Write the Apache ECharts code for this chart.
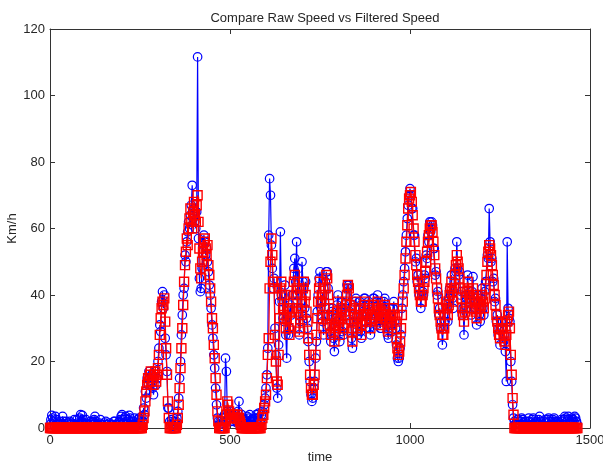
<!DOCTYPE html>
<html>
<head>
<meta charset="utf-8">
<script src="https://cdn.jsdelivr.net/npm/echarts@6/dist/echarts.min.js"></script>
<style>
  html, body { margin: 0; padding: 0; background: #ffffff; }
  #chart { width: 603px; height: 464px; }
</style>
</head>
<body>
<div id="chart"></div>
<script>
// Sampling grid of the recording (seconds)
const timeStart = 0;
const timeStep = 2.5;

// Raw GPS speed, km/h (one row = 50 s, two halves of 25 s)
const rawSpeed = [
  1, 2.5, 3.8, 3, 2, 0.5, 3.5, 2.5, 0.5, 1,            1.5, 2, 0, 1, 3.5, 2, 1, 0.5, 2, 1.5,              // 0
  0.5, 1.5, 2, 1, 1.5, 0.5, 1, 2.5, 0, 1,              2.5, 1.5, 1, 3, 4, 2, 3.8, 2.5, 1, 0.5,            // 50
  2.5, 1.5, 1, 0.5, 0.5, 2, 1.5, 1, 2, 2.5,            3.5, 2, 1, 0.5, 0.5, 1.5, 2.5, 1, 1, 0.5,          // 100
  0.5, 1.5, 2, 1, 1, 0.5, 1.5, 1, 0, 0.5,              1, 2, 2, 1, 0.5, 1, 1.5, 2, 2.5, 3.5,              // 150
  4, 2.5, 1.5, 3, 3.5, 2, 0.5, 2.5, 3.8, 3,            2, 1, 1, 2, 3, 1.5, 0.5, 1.5, 2.5, 3,              // 200
  1.5, 2.5, 3.5, 2, 6, 4, 11, 9, 15, 13,               17, 15, 14, 16, 12, 10, 15, 17, 13, 15,            // 250
  20, 24, 31, 29, 38, 41, 36, 40, 27, 22,              17, 6, 6, 2, 1, 2.5, 1, 0.5, 2, 1.5,               // 300
  2, 3, 5, 9, 15, 20, 28, 34, 40, 42,                  52, 50, 56, 59, 62, 60, 64, 67, 73, 63,            // 350
  66, 62, 60, 65, 111.6, 57, 45, 41, 42, 48,           55, 58, 56, 52, 54, 50, 47, 43, 40, 36,            // 400
  31, 27, 22, 18, 12, 7, 3, 2, 1, 2,                   0.5, 1.5, 3, 2, 4, 21, 17, 5, 3, 4,                // 450
  3, 5, 2, 4, 2, 3, 4, 2, 1.5, 5,                      8, 3, 2, 4, 3, 1, 0.5, 2.5, 2, 3.5,                // 500
  1.5, 3, 4, 2, 2.5, 1, 1, 3, 3, 4,                    2, 3, 4.5, 2, 1.5, 4, 5, 4, 7, 9,                  // 550
  12, 16, 24, 58, 75, 70, 55, 48, 42, 45,              30, 22, 12, 9, 25, 38, 59, 40, 38, 33,             // 600
  32, 43, 28, 21, 34, 28, 30, 37, 34, 40,              40, 48, 51, 44, 56, 40, 48, 28, 32, 36,            // 650
  50, 44, 42, 36, 44, 33, 30, 26, 20, 14,              10, 8, 9, 12, 14, 21, 26, 35, 40, 45,              // 700
  47, 36, 38, 32, 28, 38, 44, 47, 47, 42,              34, 29, 26, 35, 36, 27, 23, 33, 32, 37,            // 750
  40, 30, 26, 35, 38, 29, 28, 37, 36, 40,              43, 42, 43, 35, 32, 27, 24, 32, 34, 38,            // 800
  39, 31, 28, 36, 38, 29, 27, 34, 35, 39,              39, 32, 30, 37, 38, 30, 28, 35, 33, 39,            // 850
  39, 32, 31, 38, 40, 34, 33, 30, 30, 35,              36, 38, 39, 33, 31, 28, 27, 34, 36, 31,            // 900
  29, 36, 38, 32, 30, 25, 21, 20, 21, 24,              28, 36, 40, 44, 48, 53, 58, 63, 67, 70,            // 950
  72, 70, 66, 66, 58, 58, 50, 51, 44, 46,              40, 42, 36, 40, 41, 40, 46, 45, 52, 51,            // 1000
  58, 56, 62, 59, 62, 61, 54, 54, 46, 47,              40, 41, 34, 36, 30, 32, 25, 30, 32, 32,            // 1050
  36, 38, 32, 39, 42, 40, 46, 39, 36, 44,              48, 47, 56, 48, 46, 47, 40, 41, 34, 36,            // 1100
  28, 37, 40, 39, 46, 40, 38, 40, 34, 41,              45.5, 38, 36, 37, 31, 38, 40, 34, 32, 39,          // 1150
  42, 36, 34, 41, 44, 44, 52, 51, 66, 56,              50, 51, 44, 45, 38, 39, 32, 34, 28, 30,            // 1200
  25, 32, 30, 32, 26, 28, 23, 14, 56, 36,              33, 32, 20, 14, 7, 3, 2, 1, 1.5, 2.5,              // 1250
  2.5, 1.5, 1, 2, 3, 2.5, 1.5, 1, 2, 0.5,              0.5, 2, 3, 2, 1.5, 1, 2.5, 3, 1, 1.5,              // 1300
  2, 1, 1.5, 2.5, 3.5, 2, 1, 0.5, 0.5, 2,              2.5, 1.5, 1.5, 2.5, 3, 2, 1, 1.5, 2, 2.5,          // 1350
  3, 2, 1.5, 1, 2, 1.5, 0.5, 1, 2.5, 2,                1, 2.5, 3.5, 3, 2, 2.5, 3.5, 2, 1.5, 2,            // 1400
  3, 2.5, 2, 3.5, 3, 2, 1                                                                                 // 1450
];

// Filtered speed, km/h (one row = 50 s, two halves of 25 s)
const filteredSpeed = [
  0, 0, 0, 0, 0, 0, 0, 0, 0, 0,                        0, 0, 0, 0, 0, 0, 0, 0, 0, 0,                      // 0
  0, 0, 0, 0, 0, 0, 0, 0, 0, 0,                        0, 0, 0, 0, 0, 0, 0, 0, 0, 0,                      // 50
  0, 0, 0, 0, 0, 0, 0, 0, 0, 0,                        0, 0, 0, 0, 0, 0, 0, 0, 0, 0,                      // 100
  0, 0, 0, 0, 0, 0, 0, 0, 0, 0,                        0, 0, 0, 0, 0, 0, 0, 0, 0, 0,                      // 150
  0, 0, 0, 0, 0, 0, 0, 0, 0, 0,                        0, 0, 0, 0, 0, 0, 0, 0, 0, 0,                      // 200
  0, 0, 0, 1, 3, 5, 8, 11, 13, 15,                     14, 16, 17, 14, 15, 13, 16, 17, 14, 16,            // 250
  18, 22, 28, 33, 36, 38, 37, 39, 32, 24,              16, 8, 3, 0, 0, 0, 0, 0, 0, 0,                     // 300
  0, 1, 3, 7, 12, 18, 24, 30, 37, 44,                  49, 53, 57, 55, 60, 63, 66, 62, 60, 65,            // 350
  68, 64, 62, 67, 70, 62, 54, 48, 45, 50,              53, 56, 57, 54, 52, 55, 49, 46, 42, 38,            // 400
  33, 30, 25, 21, 15, 10, 5, 2, 0, 0,                  0, 0, 0, 0, 0, 2, 4, 8, 7, 5,                      // 450
  4, 3, 3, 4, 3, 4, 3, 3, 4, 3,                        3, 2, 1, 0, 0, 0, 0, 0, 0, 0,                      // 500
  0, 0, 0, 0, 0, 0, 0, 0, 0, 0,                        0, 0, 0, 0, 0, 1, 3, 4, 6, 8,                      // 550
  10, 15, 22, 27, 42, 50, 57, 52, 44, 42,              28, 20, 14, 13, 22, 33, 42, 44, 40, 36,            // 600
  34, 40, 30, 33, 36, 30, 28, 35, 32, 36,              38, 44, 46, 40, 42, 36, 35, 29, 30, 34,            // 650
  38, 42, 44, 38, 40, 35, 32, 27, 22, 16,              12, 10, 10, 13, 16, 22, 28, 33, 38, 42,            // 700
  44, 38, 40, 34, 30, 36, 42, 46, 45, 40,              36, 31, 28, 33, 34, 29, 26, 31, 30, 35,            // 750
  38, 32, 28, 33, 36, 31, 30, 35, 34, 38,              40, 43, 42, 37, 34, 29, 26, 30, 32, 36,            // 800
  38, 33, 30, 34, 36, 31, 28, 32, 34, 37,              38, 34, 32, 35, 36, 32, 30, 33, 34, 37,            // 850
  37, 34, 33, 36, 38, 36, 35, 32, 31, 33,              34, 36, 37, 35, 33, 30, 29, 32, 34, 33,            // 900
  31, 34, 36, 34, 32, 27, 24, 22, 23, 26,              30, 34, 38, 42, 46, 51, 56, 61, 66, 69,            // 950
  70, 71, 68, 64, 60, 56, 52, 49, 46, 44,              42, 40, 38, 38, 40, 42, 44, 47, 50, 53,            // 1000
  56, 58, 60, 61, 61, 59, 56, 52, 48, 45,              42, 39, 36, 34, 32, 30, 28, 28, 30, 34,            // 1050
  38, 36, 34, 37, 40, 42, 44, 41, 38, 42,              46, 49, 52, 50, 48, 45, 42, 39, 36, 34,            // 1100
  32, 35, 38, 41, 44, 42, 40, 38, 36, 39,              42, 40, 38, 35, 33, 36, 38, 36, 34, 37,            // 1150
  40, 38, 36, 39, 42, 46, 50, 53, 55, 54,              52, 49, 46, 43, 40, 37, 34, 32, 30, 28,            // 1200
  27, 30, 32, 30, 28, 26, 25, 28, 32, 34,              35, 30, 22, 16, 9, 4, 0, 0, 0, 0,                  // 1250
  0, 0, 0, 0, 0, 0, 0, 0, 0, 0,                        0, 0, 0, 0, 0, 0, 0, 0, 0, 0,                      // 1300
  0, 0, 0, 0, 0, 0, 0, 0, 0, 0,                        0, 0, 0, 0, 0, 0, 0, 0, 0, 0,                      // 1350
  0, 0, 0, 0, 0, 0, 0, 0, 0, 0,                        0, 0, 0, 0, 0, 0, 0, 0, 0, 0,                      // 1400
  0, 0, 0, 0, 0, 0, 0                                                                                     // 1450
];

// Axis ranges and tick spacing
const timeRange = [0, 1500];
const timeTickStep = 500;
const speedRange = [0, 120];
const speedTickStep = 20;

const time = rawSpeed.map((_, i) => timeStart + i * timeStep);
const rawPoints = time.map((t, i) => [t, rawSpeed[i]]);
const filteredPoints = time.map((t, i) => [t, filteredSpeed[i]]);

const FONT = '"Liberation Sans", Arial, sans-serif';
const TEXT = '#262626';
const FRAME = '#333333';

function frameAxis(extra) {
  return Object.assign({
    type: 'value',
    axisLine: { show: true, onZero: false, lineStyle: { color: FRAME, width: 1 } },
    axisTick: { show: true, inside: true, length: 5, lineStyle: { color: FRAME, width: 1 } },
    splitLine: { show: false },
    axisLabel: { show: false }
  }, extra);
}

const chart = echarts.init(document.getElementById('chart'), null, { renderer: 'canvas' });

chart.setOption({
  animation: false,
  backgroundColor: '#ffffff',
  textStyle: { fontFamily: FONT },
  title: {
    text: 'Compare Raw Speed vs Filtered Speed',
    left: 320,
    top: 7,
    textAlign: 'center',
    textStyle: { fontSize: 13, fontWeight: 'normal', color: TEXT, fontFamily: FONT }
  },
  grid: { left: 50, top: 29, width: 540, height: 399, outerBoundsMode: 'none' },
  xAxis: [
    frameAxis({
      position: 'bottom',
      min: timeRange[0], max: timeRange[1], interval: timeTickStep,
      name: 'time',
      nameLocation: 'middle',
      nameGap: 23,
      nameMoveOverlap: false,
      nameTextStyle: { fontSize: 13, color: TEXT, fontFamily: FONT },
      axisLabel: {
        show: true, fontSize: 13, color: TEXT, margin: 6, fontFamily: FONT,
        formatter: v => String(v)
      }
    }),
    frameAxis({
      position: 'top',
      min: timeRange[0], max: timeRange[1], interval: timeTickStep
    })
  ],
  yAxis: [
    frameAxis({
      position: 'left',
      min: speedRange[0], max: speedRange[1], interval: speedTickStep,
      name: 'Km/h',
      nameLocation: 'middle',
      nameGap: 31,
      nameMoveOverlap: false,
      nameTextStyle: { fontSize: 13, color: TEXT, fontFamily: FONT },
      axisLabel: {
        show: true, fontSize: 13, color: TEXT, margin: 5, fontFamily: FONT,
        formatter: v => String(v)
      }
    }),
    frameAxis({
      position: 'right',
      min: speedRange[0], max: speedRange[1], interval: speedTickStep
    })
  ],
  series: [
    {
      name: 'Raw speed',
      type: 'line',
      xAxisIndex: 0,
      yAxisIndex: 0,
      data: rawPoints,
      symbol: 'circle',
      symbolSize: 8.5,
      showSymbol: true,
      showAllSymbol: true,
      clip: false,
      z: 2,
      lineStyle: { color: '#0000ff', width: 1.2 },
      itemStyle: { color: 'rgba(0,0,0,0)', borderColor: '#0000ff', borderWidth: 1.2 },
      emphasis: { disabled: true }
    },
    {
      name: 'Filtered speed',
      type: 'line',
      xAxisIndex: 0,
      yAxisIndex: 0,
      data: filteredPoints,
      symbol: 'rect',
      symbolSize: 9,
      showSymbol: true,
      showAllSymbol: true,
      clip: false,
      z: 3,
      lineStyle: { color: '#ff0000', width: 1.2 },
      itemStyle: { color: 'rgba(0,0,0,0)', borderColor: '#ff0000', borderWidth: 1.4 },
      emphasis: { disabled: true }
    }
  ]
});
</script>
</body>
</html>
